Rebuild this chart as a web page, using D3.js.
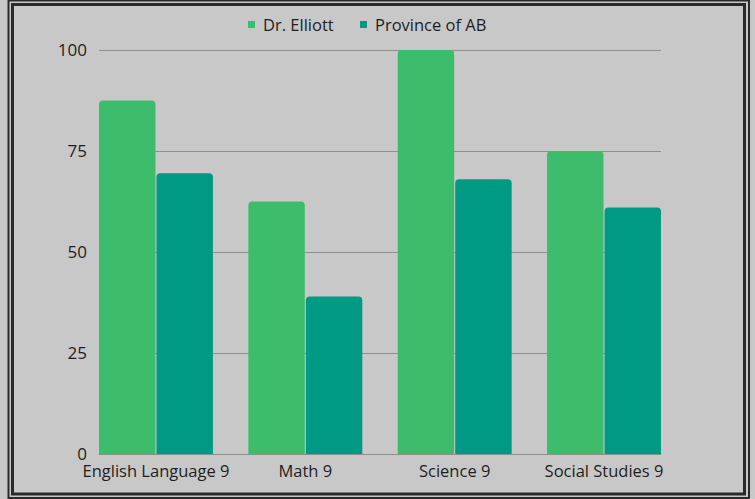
<!DOCTYPE html>
<html>
<head>
<meta charset="utf-8">
<script src="https://cdn.jsdelivr.net/npm/d3@7"></script>
<style>
html,body{margin:0;padding:0;background:#c8c8c8;}
svg{display:block;}
text{font-family:"Open Sans","Noto Sans",sans-serif;fill:#1e1e1e;}
</style>
</head>
<body>
<svg id="chart" width="755" height="499"></svg>
<script>
const categories = ["English Language 9", "Math 9", "Science 9", "Social Studies 9"];
const seriesNames = ["Dr. Elliott", "Province of AB"];
const drElliott = [87.5, 62.5, 100, 75];
const provinceAB = [69.5, 39, 68, 61];
const yTicks = [0, 25, 50, 75, 100];
const colors = ["#3dbd6b", "#009a84"];

const svg = d3.select("#chart");
const W = 755, H = 499;

svg.append("rect").attr("width", W).attr("height", H).attr("fill", "#c8c8c8");
// double frame
svg.append("rect").attr("x", 8.5).attr("y", 0.5).attr("width", 740.5).attr("height", 497.5)
  .attr("fill", "none").attr("stroke", "#2a2a2a").attr("stroke-width", 2);
svg.append("rect").attr("x", 12.5).attr("y", 4.5).attr("width", 732).attr("height", 489.5)
  .attr("fill", "none").attr("stroke", "#2a2a2a").attr("stroke-width", 3);

const x0 = d3.scaleBand().domain(categories).range([99, 661]).paddingInner(0.237).paddingOuter(0);
const x1 = d3.scaleBand().domain(seriesNames).range([0, x0.bandwidth()]).paddingInner(0.018);
const y = d3.scaleLinear().domain([0, 100]).range([454, 50]);

const yAxis = d3.axisLeft(y).tickValues(yTicks).tickSize(0).tickPadding(12);
const gy = svg.append("g").attr("transform", "translate(99,0)").call(yAxis);
gy.select(".domain").remove();
gy.selectAll(".tick text").attr("font-size", 17).attr("fill", "#1e1e1e");
svg.append("g").selectAll("line").data(yTicks).join("line")
  .attr("x1", 99).attr("x2", 661)
  .attr("y1", d => y(d) + 0.5).attr("y2", d => y(d) + 0.5)
  .attr("stroke", "#8e8e8e").attr("stroke-width", 1);

const data = categories.map((c, i) => ({cat: c, vals: [drElliott[i], provinceAB[i]]}));
const r = 4;
function topRounded(xp, yp, w, h) {
  return `M${xp},${yp + h}V${yp + r}Q${xp},${yp} ${xp + r},${yp}H${xp + w - r}Q${xp + w},${yp} ${xp + w},${yp + r}V${yp + h}Z`;
}
const groups = svg.append("g").selectAll("g").data(data).join("g")
  .attr("transform", d => `translate(${x0(d.cat)},0)`);
groups.selectAll("path").data(d => d.vals.map((v, j) => ({name: seriesNames[j], v, j}))).join("path")
  .attr("d", d => topRounded(x1(d.name), y(d.v), x1.bandwidth(), y(0) - y(d.v)))
  .attr("fill", d => colors[d.j]);

const xAxis = d3.axisBottom(x0).tickSize(0).tickPadding(11);
const gx = svg.append("g").attr("transform", "translate(0,454)").call(xAxis);
gx.select(".domain").remove();
gx.selectAll(".tick text").attr("font-size", 16.5).attr("fill", "#1e1e1e");

const legendX = [248, 360];
const lg = svg.append("g").selectAll("g").data(seriesNames).join("g")
  .attr("transform", (d, i) => `translate(${legendX[i]},0)`);
lg.append("rect").attr("x", 0).attr("y", 21).attr("width", 7).attr("height", 7)
  .attr("fill", (d, i) => colors[i]);
lg.append("text").attr("x", 15).attr("y", 30.5).attr("font-size", 16.5).text(d => d);
</script>
</body>
</html>
